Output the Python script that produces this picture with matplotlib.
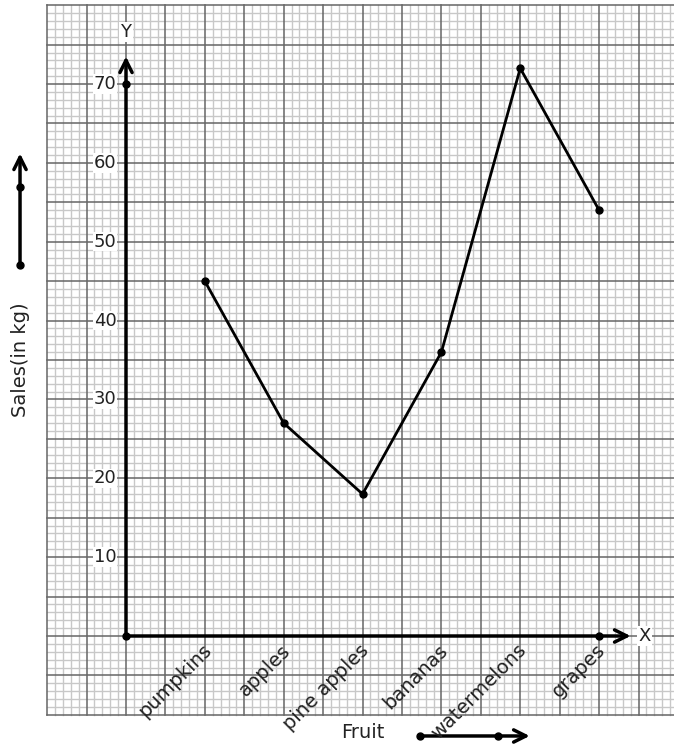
import matplotlib

matplotlib.use("Agg")

import matplotlib.pyplot as plt

fruits = ["pumpkins", "apples", "pine apples", "bananas", "watermelons", "grapes"]
sales = [45, 27, 18, 36, 72, 54]
y_ticks = [10, 20, 30, 40, 50, 60, 70]

# one grid unit = 1 kg on y; each fruit sits 10 units apart on x
fruit_x = [10 * (i + 1) for i in range(len(fruits))]

scale = 7.885  # pixels per unit
ox, oy = 126, 636  # origin in pixels
W, H = 674, 751

fig = plt.figure(figsize=(W / 100, H / 100), dpi=100)
ax = fig.add_axes([0, 0, 1, 1])
ax.set_xlim(-ox / scale, (W - ox) / scale)
ax.set_ylim(-(H - oy) / scale, oy / scale)
ax.axis("off")

# graph paper
for v in range(-10, 71):
    major = v % 5 == 0
    ax.plot([v, v], [-10, 80], color="#666666" if major else "#c8c8c8",
            lw=1.1 if major else 1.0, zorder=2 if major else 1)
for h in range(-10, 81):
    major = h % 5 == 0
    ax.plot([-10, 70], [h, h], color="#666666" if major else "#c8c8c8",
            lw=1.1 if major else 1.0, zorder=2 if major else 1)

# axes with arrows
arrow = dict(arrowstyle="->", lw=2.5, color="black", mutation_scale=22,
             shrinkA=0, shrinkB=0)
ax.annotate("", xy=(0, 73.5), xytext=(0, 0), arrowprops=arrow, zorder=5)
ax.annotate("", xy=(64, 0), xytext=(0, 0), arrowprops=arrow, zorder=5)
ax.plot([0, 0, 60], [70, 0, 0], "o", color="black", ms=5, zorder=6)

ax.text(0, 76.6, "Y", ha="center", va="center", fontsize=13, color="#222",
        bbox=dict(facecolor="white", edgecolor="none", pad=1), zorder=6)
ax.text(65.8, 0, "X", ha="center", va="center", fontsize=13, color="#222",
        bbox=dict(facecolor="white", edgecolor="none", pad=1), zorder=6)

for t in y_ticks:
    ax.text(-1.2, t, str(t), ha="right", va="center", fontsize=13, color="#222",
            bbox=dict(facecolor="white", edgecolor="none", pad=0.5), zorder=6)

for x, name in zip(fruit_x, fruits):
    ax.text(x + 1.3, -0.6, name, rotation=45, ha="right", va="top",
            fontsize=14, color="#222", zorder=6)

# data line
ax.plot(fruit_x, sales, "-o", color="black", lw=2, ms=5, zorder=7)

# axis labels and direction arrows
ax.text(30, -12.3, "Fruit", ha="center", va="center", fontsize=14, color="#222")
ax.text(-13.4, 35, "Sales(in kg)", rotation=90, ha="center", va="center",
        fontsize=14, color="#222")

ax.annotate("", xy=(-13.44, 61.2), xytext=(-13.44, 47), arrowprops=arrow)
ax.plot([-13.44, -13.44], [47, 57], "o", color="black", ms=5)
ax.annotate("", xy=(51.2, -12.68), xytext=(37.3, -12.68), arrowprops=arrow)
ax.plot([37.3, 47.2], [-12.68, -12.68], "o", color="black", ms=5)

fig.savefig("out.png", dpi=100, facecolor="white")
plt.close(fig)
